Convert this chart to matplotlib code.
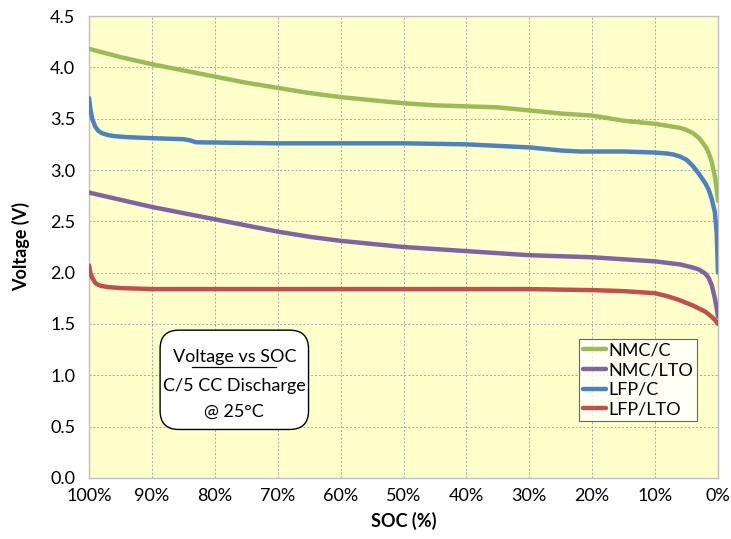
import matplotlib
matplotlib.use("Agg")
import matplotlib.pyplot as plt
from matplotlib.patches import FancyBboxPatch
from matplotlib.lines import Line2D

plt.rcParams["font.family"] = ["Lato", "DejaVu Sans"]

# SOC (%) and voltage readings per chemistry
nmc_c_soc = [100, 95, 90, 85, 80, 75, 70, 65, 60, 55, 50, 45, 40, 35, 30, 25, 20, 15, 10, 8, 6, 5, 4, 3, 2, 1.5, 1, 0.5, 0.2, 0]
nmc_c_v = [4.18, 4.10, 4.03, 3.97, 3.91, 3.85, 3.80, 3.75, 3.71, 3.68, 3.65, 3.63, 3.62, 3.61, 3.58, 3.55, 3.53, 3.48, 3.45, 3.43, 3.41, 3.39, 3.36, 3.31, 3.23, 3.17, 3.08, 2.94, 2.81, 2.70]

nmc_lto_soc = [100, 95, 90, 85, 80, 75, 70, 65, 60, 55, 50, 45, 40, 35, 30, 25, 20, 15, 10, 6, 4, 3, 2, 1.5, 1, 0.5, 0.2, 0]
nmc_lto_v = [2.78, 2.71, 2.64, 2.58, 2.52, 2.46, 2.40, 2.35, 2.31, 2.28, 2.25, 2.23, 2.21, 2.19, 2.17, 2.16, 2.15, 2.13, 2.11, 2.08, 2.05, 2.03, 1.99, 1.95, 1.88, 1.75, 1.65, 1.57]

lfp_c_soc = [100, 99.8, 99.5, 99, 98.5, 98, 97, 96, 94, 90, 85, 84, 83, 70, 60, 50, 40, 30, 25, 22, 15, 10, 8, 7, 6, 5, 4, 3, 2, 1.5, 1, 0.5, 0.2, 0]
lfp_c_v = [3.70, 3.60, 3.50, 3.42, 3.38, 3.36, 3.34, 3.33, 3.32, 3.31, 3.30, 3.29, 3.27, 3.26, 3.26, 3.26, 3.25, 3.22, 3.19, 3.18, 3.18, 3.17, 3.16, 3.15, 3.13, 3.10, 3.04, 2.96, 2.87, 2.81, 2.72, 2.59, 2.38, 2.00]

lfp_lto_soc = [100, 99.8, 99.5, 99, 98.5, 98, 97, 95, 90, 80, 70, 60, 50, 40, 30, 20, 15, 10, 8, 6, 4, 2, 1, 0.5, 0]
lfp_lto_v = [2.07, 2.00, 1.95, 1.90, 1.88, 1.87, 1.86, 1.85, 1.84, 1.84, 1.84, 1.84, 1.84, 1.84, 1.84, 1.83, 1.82, 1.80, 1.77, 1.73, 1.68, 1.62, 1.57, 1.54, 1.50]

series = [
    ("NMC/C", nmc_c_soc, nmc_c_v, "#9BBB59"),
    ("NMC/LTO", nmc_lto_soc, nmc_lto_v, "#8064A2"),
    ("LFP/C", lfp_c_soc, lfp_c_v, "#4F81BD"),
    ("LFP/LTO", lfp_lto_soc, lfp_lto_v, "#C0504D"),
]

x_ticks = list(range(100, -1, -10))
y_ticks = [0.0, 0.5, 1.0, 1.5, 2.0, 2.5, 3.0, 3.5, 4.0, 4.5]

fig = plt.figure(figsize=(7.31, 5.39), dpi=100)
ax = fig.add_axes([0.1218, 0.1132, 0.8604, 0.8571])
ax.set_facecolor("#FFFFCC")

for name, soc, v, color in series:
    ax.plot(soc, v, color=color, linewidth=3.2, label=name, solid_capstyle="round",
            solid_joinstyle="round", zorder=3)

ax.set_xlim(100, 0)
ax.set_ylim(0, 4.5)
ax.set_xticks(x_ticks)
ax.set_xticklabels([f"{t}%" for t in x_ticks])
ax.set_yticks(y_ticks)
ax.set_yticklabels([f"{t:.1f}" for t in y_ticks])
ax.tick_params(length=0, labelsize=13)
ax.tick_params(axis="x", pad=7)
ax.tick_params(axis="y", pad=10)
ax.grid(True, color="#A6A6A6", linestyle=(0, (2, 2)), linewidth=0.7)
ax.set_axisbelow(True)
for sp in ax.spines.values():
    sp.set_color("#BFBFBF")
    sp.set_linewidth(1.0)

ax.set_xlabel("SOC (%)", fontsize=13, fontweight="bold", labelpad=6)
ax.set_ylabel("Voltage (V)", fontsize=13, fontweight="bold", labelpad=14)

leg = ax.legend(loc="lower right", bbox_to_anchor=(0.966, 0.123), fontsize=13,
                frameon=True, fancybox=False, handlelength=1.3, handletextpad=0.1,
                borderpad=0.2, labelspacing=0.2, borderaxespad=0)
leg.get_frame().set_edgecolor("#404040")
leg.get_frame().set_linewidth(0.8)

# annotation box
box = FancyBboxPatch((0.113, 0.105), 0.236, 0.215, boxstyle="round,pad=0,rounding_size=0.03",
                     transform=ax.transAxes, facecolor="white", edgecolor="black",
                     linewidth=1.0, zorder=4, mutation_aspect=1.35)
ax.add_patch(box)
ax.text(0.231, 0.262, "Voltage vs SOC", transform=ax.transAxes, ha="center", va="center",
        fontsize=13, zorder=5)
ax.add_line(Line2D([0.164, 0.298], [0.241, 0.241], transform=ax.transAxes, color="black",
                   linewidth=0.9, zorder=5))
ax.text(0.231, 0.2, "C/5 CC Discharge", transform=ax.transAxes, ha="center", va="center",
        fontsize=13, zorder=5)
ax.text(0.231, 0.143, "@ 25°C", transform=ax.transAxes, ha="center", va="center",
        fontsize=13, zorder=5)

fig.savefig("out.png", dpi=100)
